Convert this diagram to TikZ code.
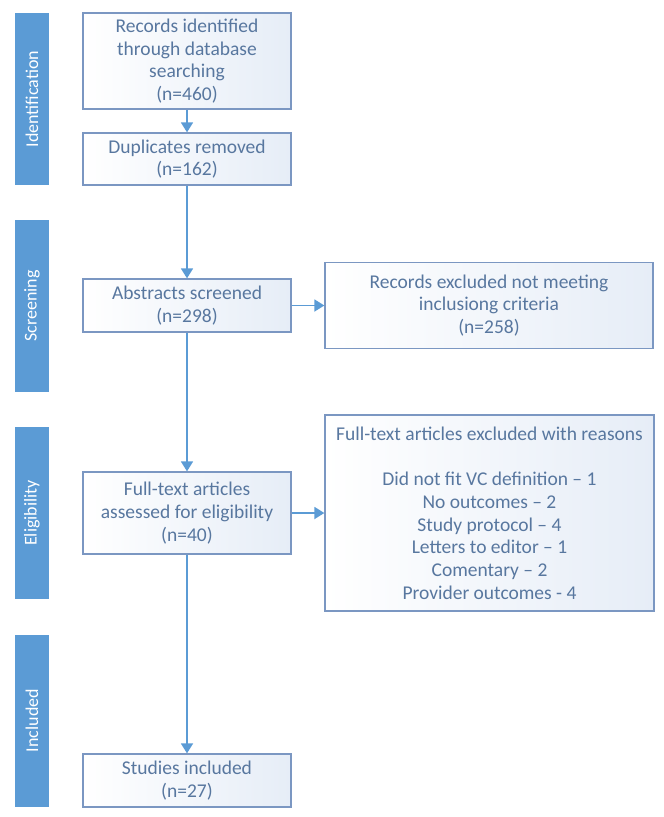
\documentclass[tikz,border=0pt]{standalone}
\usepackage{fontspec}
\setmainfont{Carlito}
\usepackage{tikz}
\usetikzlibrary{arrows.meta}
\definecolor{barblue}{HTML}{5B9BD5}
\definecolor{boxline}{HTML}{7B97C2}
\definecolor{boxtext}{HTML}{58779F}
\definecolor{boxfill}{HTML}{E6EDF7}
\tikzset{
  box/.style={draw=boxline, line width=1.3pt, left color=white, right color=boxfill,
    text=boxtext, align=center, minimum width=208pt, inner sep=2pt,
    font=\fontsize{19.5}{22.7}\selectfont},
  bar/.style={fill=barblue, text=white, rotate=90, minimum width=172pt, minimum height=34pt,
    inner sep=0pt, font=\fontsize{18}{21}\selectfont},
  arr/.style={draw=barblue, line width=1.8pt, -{Triangle[width=12pt,length=10pt]}}
}
\begin{document}
\begin{tikzpicture}[x=1pt,y=-1pt]
  \useasboundingbox (0,0) rectangle (664,817);

  \node[bar] (ident) at (32,99)    {Identification};
  \node[bar] (scr)   at (32,306)   {Screening};
  \node[bar] (elig)  at (32,513)   {Eligibility};
  \node[bar] (incl)  at (32,720.5) {Included};

  \node[box, minimum height=96pt] (rec)  at (187,61)    {Records identified\\through database\\searching\\(n=460)};
  \node[box, minimum height=52pt] (dup)  at (187,159)   {Duplicates removed\\(n=162)};
  \node[box, minimum height=53pt] (abs)  at (187,305.5) {Abstracts screened\\(n=298)};
  \node[box, minimum height=82pt] (full) at (187,513)   {Full-text articles\\assessed for eligibility\\(n=40)};
  \node[box, minimum height=53pt] (stud) at (187,780.5) {Studies included\\(n=27)};

  \node[box, minimum width=328pt, minimum height=86pt] (exabs) at (489,305.5)
    {Records excluded not meeting\\inclusiong criteria\\(n=258)};
  \node[box, minimum width=329pt, minimum height=196pt] (exfull) at (489.5,513)
    {Full-text articles excluded with reasons\\[22.7pt]Did not fit VC definition -- 1\\No outcomes -- 2\\Study protocol -- 4\\Letters to editor -- 1\\Comentary -- 2\\Provider outcomes - 4};

  \draw[arr] (rec)--(dup);
  \draw[arr] (dup)--(abs);
  \draw[arr] (abs)--(full);
  \draw[arr] (full)--(stud);
  \draw[arr] (abs)--(exabs);
  \draw[arr] (full)--(exfull);
\end{tikzpicture}
\end{document}
